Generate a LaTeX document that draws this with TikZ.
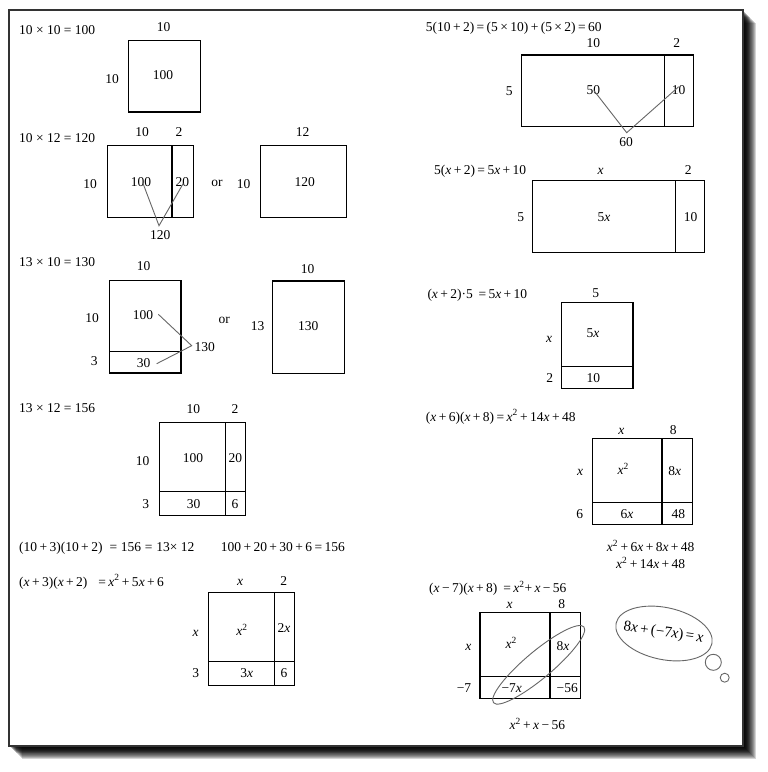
\documentclass[tikz,border=0pt]{standalone}
\usepackage{fontspec}
\setmainfont{Liberation Serif}
\usetikzlibrary{shapes.geometric}
\newcommand{\vx}{\textit{x}}
\newcommand{\psq}{\textsuperscript{2}}
\newcommand{\os}{\hspace{2.4pt}}
\begin{document}
\begin{tikzpicture}[x=1pt,y=-1pt,
  every node/.style={inner sep=0pt, text height=9pt, text depth=0pt, font=\fontsize{13.5}{16}\selectfont},
  eq/.style={anchor=west},
  box/.style={draw=black, line width=1.2pt},
  conn/.style={draw=black!60, line width=0.9pt},
  frame/.style={draw=black!80, line width=1.3pt, fill=white}]
\useasboundingbox (0,0) rectangle (768,772);
\fill[white] (0,0) rectangle (768,772);
% shadow
\foreach \s in {1,...,13} \fill[black,opacity=0.17] (9+\s,10+\s) rectangle (743+\s,746+\s);
\foreach \s in {1,...,7} \fill[black,opacity=0.12] (9+\s,10+\s) rectangle (743+\s,746+\s);
\draw[frame] (9,10) rectangle (743,746);

% ---------- left column ----------
\node[eq] (e1) at (19,30) {10 × 10 = 100};
\draw[box] (128.7,40.3) rectangle (200.7,112);
\node (b1t) at (163.7,26.7) {10};
\node (b1l) at (112,79) {10};
\node (b1c) at (163,75) {100};

\node[eq] (e2) at (19,137.7) {10 × 12 = 120};
\draw[box] (107.3,145.7) rectangle (193.3,217.3);
\draw[box] (172,145.7) -- (172,217.3);
\node (b2t1) at (142,132.3) {10};
\node (b2t2) at (179,132.3) {2};
\node (b2l) at (90,183.7) {10};
\node (b2a) at (141,181.7) {100};
\node (b2b) at (182.3,181.7) {20};
\coordinate (v2) at (159,225.7);
\node (b2s) at (160.3,235.3) {120};
\draw[conn] ([xshift=2pt,yshift=3pt]b2a.south) -- (v2) -- ([xshift=1pt,yshift=3pt]b2b.south);
\node (or1) at (217,182.3) {or};
\draw[box] (260.7,145.7) rectangle (346.7,217.3);
\node (b3t) at (302.7,132.3) {12};
\node (b3l) at (243.7,183.7) {10};
\node (b3c) at (304.7,182.3) {120};

\node[eq] (e3) at (19,261.7) {13 × 10 = 130};
\draw[box] (109.3,280.3) rectangle (181,373);
\draw[box] (109.3,351.3) -- (181,351.3);
\node (b4t) at (143.7,266) {10};
\node (b4l1) at (92,318.3) {10};
\node (b4l2) at (94.3,361) {3};
\node (b4a) at (143,315.3) {100};
\node (b4b) at (143.7,362.7) {30};
\coordinate (v4) at (191.7,345.7);
\node[anchor=west] (b4s) at (194.5,346.7) {130};
\draw[conn] ([xshift=5pt,yshift=1pt]b4a.east) -- (v4) -- ([xshift=6pt,yshift=-1pt]b4b.east);
\node (or2) at (224.3,318.7) {or};
\draw[box] (272.3,281) rectangle (344.3,373.7);
\node (b5t) at (307.7,269) {10};
\node (b5l) at (257.7,326.3) {13};
\node (b5c) at (308.3,326.3) {130};

\node[eq] (e4) at (19,407.7) {13 × 12 = 156};
\draw[box] (159.7,422.7) rectangle (245.7,515.7);
\draw[box] (225.3,422.7) -- (225.3,515.7);
\draw[box] (159.7,491.3) -- (245.7,491.3);
\node (b6t1) at (193.3,409.3) {10};
\node (b6t2) at (235,409.3) {2};
\node (b6l1) at (142.7,461) {10};
\node (b6l2) at (145.7,503.7) {3};
\node (b6a) at (193,457.7) {100};
\node (b6b) at (235.3,457.7) {20};
\node (b6c) at (193.7,503.7) {30};
\node (b6d) at (235,503.7) {6};

\node[eq] (e5) at (19,546.7) {(10\os+\os3)(10\os+\os2) \;=\;156\;=\;13× 12};
\node[eq] (e6) at (220.7,546.7) {100\os+\os20\os+\os30\os+\os6\os=\os156};

\node[eq] (e7) at (19,581.7) {(\vx\os+\os3)(\vx\os+\os2) \;\;=\os\vx\psq\os+\os5\vx\os+\os6};
\draw[box] (208.3,592.3) rectangle (294.7,685.3);
\draw[box] (274.3,592.3) -- (274.3,685.3);
\draw[box] (208.3,661.7) -- (294.7,661.7);
\node (b7t1) at (240,581) {\vx};
\node (b7t2) at (283.7,581) {2};
\node (b7l1) at (195.7,632) {\vx};
\node (b7l2) at (195.7,673.3) {3};
\node (b7a) at (242,631) {\vx\psq};
\node (b7b) at (284,627.7) {2\vx};
\node (b7c) at (246.7,673.3) {3\vx};
\node (b7d) at (284,673.3) {6};

% ---------- right column ----------
\node[eq] (e8) at (425.7,26.7) {5(10\os+\os2)\os=\os(5\os×\os10)\os+\os(5\os×\os2)\os=\os60};
\draw[box] (521.3,55) rectangle (693.3,126.3);
\draw[box] (664.3,55) -- (664.3,126.3);
\node (b8t1) at (593.3,43.3) {10};
\node (b8t2) at (676.7,43.3) {2};
\node (b8l) at (509.3,90.7) {5};
\node (b8a) at (593.3,90) {50};
\node (b8b) at (678.7,90) {10};
\coordinate (v8) at (626.7,132.7);
\node (b8s) at (626,141.7) {60};
\draw[conn] ([xshift=0.7pt,yshift=4pt]b8a.south) -- (v8) -- ([yshift=8pt]b8b.south);

\node[eq] (e9) at (434,170) {5(\vx\os+\os2)\os=\os5\vx\os+\os10};
\draw[box] (532.7,180.7) rectangle (704.7,252.3);
\draw[box] (675.7,180.7) -- (675.7,252.3);
\node (b9t1) at (600.7,170) {\vx};
\node (b9t2) at (688.3,170) {2};
\node (b9l) at (520.7,216.7) {5};
\node (b9a) at (604,216.7) {5\vx};
\node (b9b) at (690.7,216.7) {10};

\node[eq] (e10) at (427.3,294) {(\vx\os+\os2)·5 \,=\os5\vx\os+\os10};
\draw[box] (561.3,302.7) rectangle (633,388.3);
\draw[box] (561.3,366.7) -- (633,366.7);
\node (b10t) at (595.7,293.3) {5};
\node (b10l1) at (549,338.3) {\vx};
\node (b10l2) at (549.7,377.7) {2};
\node (b10a) at (593,333.3) {5\vx};
\node (b10b) at (593.3,377.7) {10};

\node[eq] (e11) at (425.7,416.7) {(\vx\os+\os6)(\vx\os+\os8)\os=\os\vx\psq\os+\os14\vx\os+\os48};
\draw[box] (592.3,438.7) rectangle (692.3,524.3);
\draw[box] (662,438.7) -- (662,524.3);
\draw[box] (592.3,502.3) -- (692.3,502.3);
\node (b11t1) at (621.3,430) {\vx};
\node (b11t2) at (673.3,430) {8};
\node (b11l1) at (580,471) {\vx};
\node (b11l2) at (579.7,514.3) {6};
\node (b11a) at (623.3,470) {\vx\psq};
\node (b11b) at (674.7,471) {8\vx};
\node (b11c) at (627,514.3) {6\vx};
\node (b11d) at (678.3,514.3) {48};
\node (s11a) at (650.7,547.3) {\vx\psq\os+\os6\vx\os+\os8\vx\os+\os48};
\node (s11b) at (650.7,564.3) {\vx\psq\os+\os14\vx\os+\os48};

\node[eq] (e12) at (429,588.3) {(\vx\os−\os7)(\vx\os+\os8) \os=\os \vx\psq+\os\vx\os−\os56};
\draw[box] (480,612.7) rectangle (580.7,698.3);
\draw[box] (550,612.7) -- (550,698.3);
\draw[box] (480,676.7) -- (580.7,676.7);
\node (b12t1) at (509.7,604) {\vx};
\node (b12t2) at (561.7,604) {8};
\node (b12l1) at (468.3,645.7) {\vx};
\node (b12l2) at (464,688.3) {−7};
\node (b12a) at (511.3,644.3) {\vx\psq};
\node (b12b) at (563,645.7) {8\vx};
\node (b12c) at (511.7,688.3) {−7\vx};
\node (b12d) at (567.3,688.3) {−56};
\node[draw=black!60, line width=0.9pt, ellipse, minimum width=118pt, minimum height=27pt, rotate=40] (ell) at (538.7,664.8) {};
\node (s12) at (537.3,725) {\vx\psq\os+\os\vx\os−\os56};

% thought bubble
\node[draw=black!60, line width=0.9pt, ellipse, minimum width=98pt, minimum height=52pt, rotate=-12] (bub) at (664,633.5) {};
\node[rotate=-8, font=\fontsize{15}{18}\selectfont] (bubt) at (663.5,632) {8\vx\,+\,(−7\vx)\,=\,\vx};
\node[draw=black!60, line width=0.9pt, circle, minimum size=16pt] (c1) at (713.3,662.3) {};
\node[draw=black!60, line width=0.9pt, circle, minimum size=8.5pt] (c2) at (724.7,677.7) {};
\end{tikzpicture}
\end{document}
